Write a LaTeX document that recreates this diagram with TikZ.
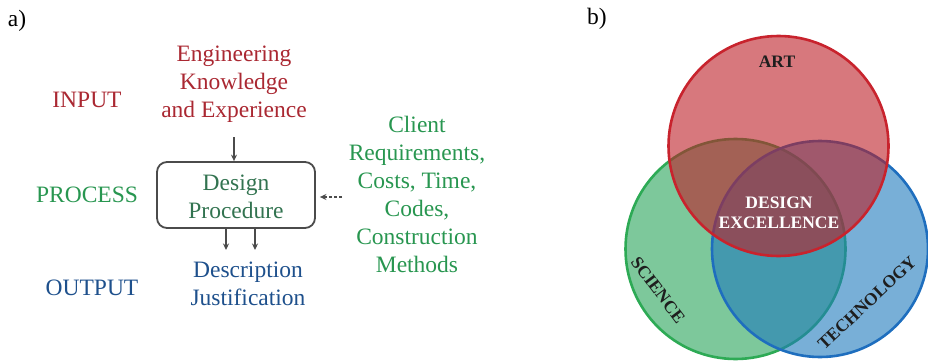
\documentclass[tikz,border=0pt]{standalone}
\usepackage{fontspec}
\setmainfont{Liberation Serif}
\usepackage{xcolor}
\usepackage{tikz}
\usetikzlibrary{arrows.meta, positioning, calc}
\definecolor{inputred}{RGB}{170,40,50}
\definecolor{processgreen}{RGB}{40,150,80}
\definecolor{proceduregreen}{RGB}{50,115,80}
\definecolor{outputblue}{RGB}{30,80,140}
\definecolor{boxgray}{RGB}{75,75,75}
\definecolor{artred}{RGB}{188,30,38}
\definecolor{artline}{RGB}{200,35,45}
\definecolor{sciencegreen}{RGB}{38,163,88}
\definecolor{scienceline}{RGB}{45,170,85}
\definecolor{techblue}{RGB}{30,122,188}
\definecolor{techline}{RGB}{30,110,190}
\definecolor{labeldark}{RGB}{30,30,30}

\begin{document}
\begin{tikzpicture}[x=1pt, y=-1pt,
    txt/.style={font=\fontsize{23.5}{28}\selectfont, align=center, inner sep=0pt},
    vlabel/.style={font=\fontsize{17.5}{20}\selectfont\bfseries, align=center, inner sep=0pt},
    arr/.style={-{Stealth[length=6.5pt, width=6pt]}, line width=1.4pt, boxgray},
    circ/.style={line width=2.6pt, fill opacity=0.6}]
    \useasboundingbox (0,0) rectangle (928,361);

    % Part a: input, process, output
    \node[txt] (pa) at (17,21) {a)};
    \node[txt, inputred] (input) at (87,100) {INPUT};
    \node[txt, processgreen] (process) at (87,195) {PROCESS};
    \node[txt, outputblue] (output) at (92,288) {OUTPUT};

    \node[txt, inputred] (knowledge) at (234,84) {Engineering\\Knowledge\\and Experience};
    \node[draw=boxgray, line width=1.8pt, rounded corners=10pt, minimum width=158pt,
          minimum height=66pt, inner sep=0pt] (procbox) at (236,195) {};
    \node[txt, proceduregreen] (procedure) at (236,197) {Design\\Procedure};
    \node[txt, outputblue] (description) at (248,284) {Description\\Justification};
    \node[txt, processgreen] (client) at (417,194) {Client\\Requirements,\\Costs, Time,\\Codes,\\Construction\\Methods};

    \coordinate (kin) at (234,137);
    \draw[arr] (kin) -- (kin |- procbox.north);
    \draw[arr] ([xshift=-10pt]procbox.south) -- ([xshift=-10pt]procbox.south |- 0,250);
    \draw[arr] ([xshift=19pt]procbox.south) -- ([xshift=19pt]procbox.south |- 0,250);
    \coordinate (cin) at (342,197);
    \draw[arr, dash pattern=on 3pt off 2pt] (cin) -- ([xshift=4pt]procbox.east |- cin);

    % Part b: Venn diagram
    \node[txt] (pb) at (597,19) {b)};
    \draw[circ, draw=scienceline, fill=sciencegreen] (735.5,249) circle (110pt);
    \draw[circ, draw=techline, fill=techblue] (820,249) circle (108pt);
    \draw[circ, draw=artline, fill=artred] (778.5,146) circle (110pt);

    \node[vlabel, labeldark] (art) at (777,62) {ART};
    \node[vlabel, white] (excellence) at (779,213) {DESIGN\\EXCELLENCE};
    \node[vlabel, labeldark, rotate=-53] (science) at (658,290) {SCIENCE};
    \node[vlabel, labeldark, rotate=43] (technology) at (867,303) {TECHNOLOGY};
\end{tikzpicture}
\end{document}
